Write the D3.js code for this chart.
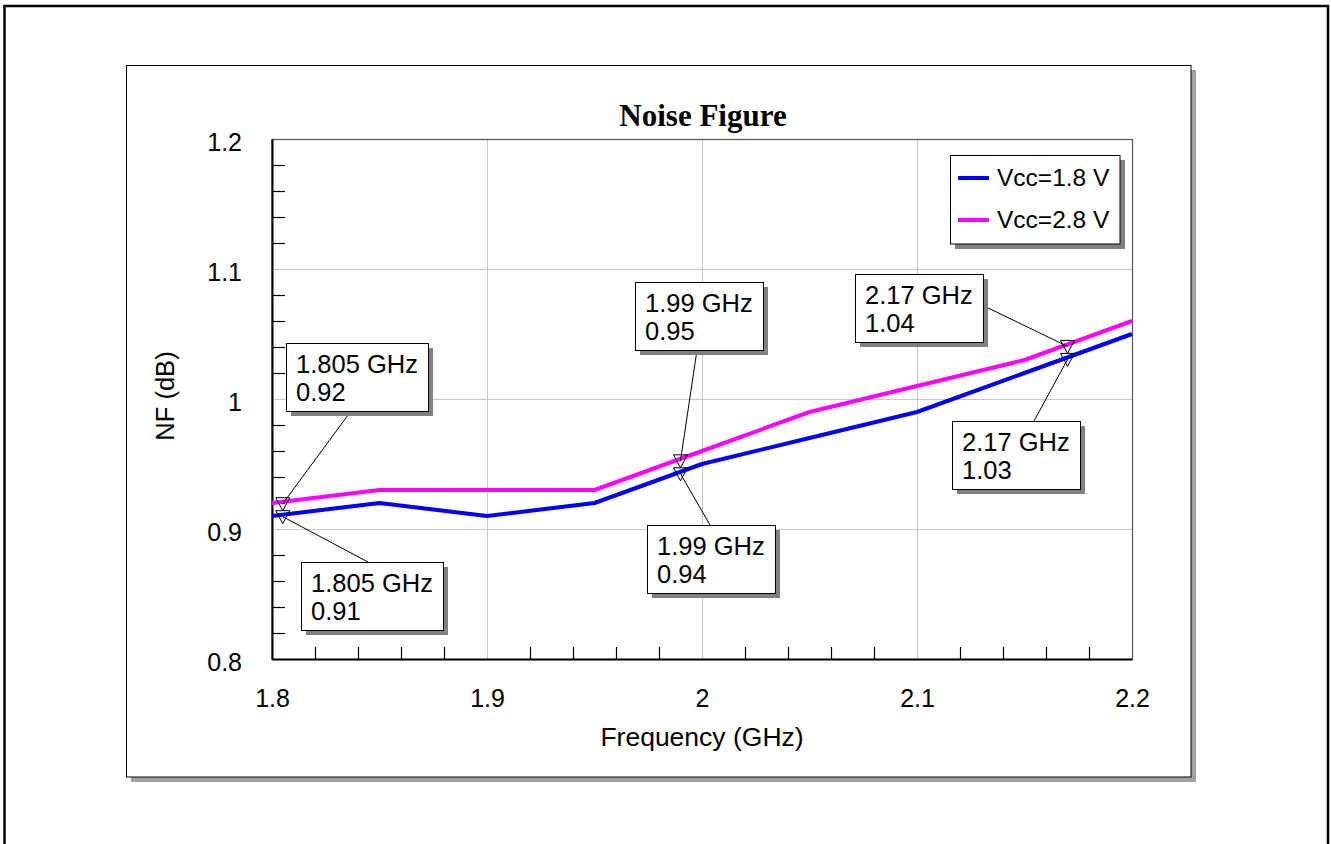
<!DOCTYPE html>
<html>
<head>
<meta charset="utf-8">
<script src="https://cdn.jsdelivr.net/npm/d3@7"></script>
<style>
  html, body { margin: 0; padding: 0; background: #fff; }
  svg { display: block; }
  text { font-family: "Liberation Sans", Arial, sans-serif; fill: #000; }
</style>
</head>
<body>
<svg id="chart" width="1331" height="844"></svg>
<script>
// ---- data ----
const frequencies = [1.8, 1.85, 1.9, 1.95, 2.0, 2.05, 2.1, 2.15, 2.2];
const nfVcc18 = [0.91, 0.92, 0.91, 0.92, 0.95, 0.97, 0.99, 1.02, 1.05];
const nfVcc28 = [0.92, 0.93, 0.93, 0.93, 0.96, 0.99, 1.01, 1.03, 1.06];
const seriesNames = ["Vcc=1.8 V", "Vcc=2.8 V"];
const seriesColors = ["#0000ff", "#ff00ff"];

const xMajorTicks = [1.8, 1.9, 2.0, 2.1, 2.2];
const xMinorTicks = [1.82, 1.84, 1.86, 1.88, 1.92, 1.94, 1.96, 1.98, 2.02, 2.04, 2.06, 2.08, 2.12, 2.14, 2.16, 2.18];
const yMajorTicks = [0.8, 0.9, 1.0, 1.1, 1.2];
const yMinorTicks = [0.82, 0.84, 0.86, 0.88, 0.92, 0.94, 0.96, 0.98, 1.02, 1.04, 1.06, 1.08, 1.12, 1.14, 1.16, 1.18];

// marker readouts (frequency, value) per series
const markerFreqs = [1.805, 1.99, 2.17];
const markersVcc18 = [0.911, 0.944, 1.032];
const markersVcc28 = [0.921, 0.954, 1.042];

// ---- layout ----
const svg = d3.select("#chart");
const plot = { left: 272, right: 1132, top: 139, bottom: 659 };
const x = d3.scaleLinear().domain([1.8, 2.2]).range([plot.left, plot.right]);
const y = d3.scaleLinear().domain([0.8, 1.2]).range([plot.bottom, plot.top]);

// outer frame
svg.append("rect").attr("x", 4.5).attr("y", 6).attr("width", 1323.5).attr("height", 900)
  .attr("fill", "none").attr("stroke", "#000").attr("stroke-width", 2.5);

// chart panel with drop shadow
svg.append("rect").attr("x", 131).attr("y", 70).attr("width", 1065).attr("height", 712).attr("fill", "#a0a0a0");
svg.append("rect").attr("x", 126.5).attr("y", 65.5).attr("width", 1064.5).attr("height", 711.5)
  .attr("fill", "#fff").attr("stroke", "#000").attr("stroke-width", 1);

// title
svg.append("text").attr("x", 703).attr("y", 126).attr("text-anchor", "middle")
  .style("font-family", "'Liberation Serif', 'Times New Roman', serif")
  .style("font-weight", "bold").style("font-size", "31px").text("Noise Figure");

// gridlines
const grid = svg.append("g");
grid.append("g").attr("transform", `translate(0,${plot.bottom})`)
  .call(d3.axisBottom(x).tickValues(xMajorTicks.slice(1, -1)).tickSize(-(plot.bottom - plot.top)).tickFormat(""))
  .call(g => g.select(".domain").remove())
  .call(g => g.selectAll("line").attr("stroke", "#c8c8c8").attr("stroke-width", 1));
grid.append("g").attr("transform", `translate(${plot.left},0)`)
  .call(d3.axisLeft(y).tickValues(yMajorTicks.slice(1, -1)).tickSize(-(plot.right - plot.left)).tickFormat(""))
  .call(g => g.select(".domain").remove())
  .call(g => g.selectAll("line").attr("stroke", "#c8c8c8").attr("stroke-width", 1));

// plot frame (top and right)
svg.append("rect").attr("x", plot.left).attr("y", plot.top + 0.5)
  .attr("width", plot.right - plot.left + 0.5).attr("height", plot.bottom - plot.top)
  .attr("fill", "none").attr("stroke", "#555").attr("stroke-width", 1.2);

// minor ticks, drawn inward
svg.append("g").attr("transform", `translate(0,${plot.bottom})`)
  .call(d3.axisBottom(x).tickValues(xMinorTicks).tickSize(-12).tickFormat(""))
  .call(g => g.select(".domain").remove())
  .call(g => g.selectAll("line").attr("stroke", "#000").attr("stroke-width", 1.2));
svg.append("g").attr("transform", `translate(${plot.left},0)`)
  .call(d3.axisLeft(y).tickValues(yMinorTicks).tickSize(-13).tickFormat(""))
  .call(g => g.select(".domain").remove())
  .call(g => g.selectAll("line").attr("stroke", "#000").attr("stroke-width", 1.2));

// main axes with labels
const fmtTick = d => d3.format("")(+d.toFixed(2));
const xAxis = svg.append("g").attr("transform", `translate(0,${plot.bottom})`)
  .call(d3.axisBottom(x).tickValues(xMajorTicks).tickSize(0).tickPadding(30).tickFormat(fmtTick));
xAxis.select(".domain").attr("stroke", "#000").attr("stroke-width", 2);
xAxis.selectAll("text").style("font-size", "25px").style("font-family", "'Liberation Sans', Arial, sans-serif");

const yAxis = svg.append("g").attr("transform", `translate(${plot.left},0)`)
  .call(d3.axisLeft(y).tickValues(yMajorTicks).tickSize(0).tickPadding(30).tickFormat(fmtTick));
yAxis.select(".domain").attr("stroke", "#000").attr("stroke-width", 2);
yAxis.selectAll("text").style("font-size", "25px").style("font-family", "'Liberation Sans', Arial, sans-serif")
  .attr("dy", "0.45em");

// axis titles
svg.append("text").attr("x", 702).attr("y", 746).attr("text-anchor", "middle")
  .style("font-size", "26.5px").text("Frequency (GHz)");
svg.append("text").attr("transform", "translate(174,396) rotate(-90)").attr("text-anchor", "middle")
  .style("font-size", "25.5px").text("NF (dB)");

// series lines
const seriesData = [nfVcc18, nfVcc28];
const line = d3.line().x((d, i) => x(frequencies[i])).y(d => y(d));
seriesData.forEach((vals, s) => {
  svg.append("path").datum(vals).attr("d", line)
    .attr("fill", "none").attr("stroke", seriesColors[s]).attr("stroke-width", 4)
    .attr("stroke-linejoin", "round");
});

// legend
const legend = svg.append("g");
legend.append("rect").attr("x", 955).attr("y", 160).attr("width", 170).attr("height", 89).attr("fill", "#808080");
legend.append("rect").attr("x", 950.5).attr("y", 155.5).attr("width", 169.5).attr("height", 88.5)
  .attr("fill", "#fff").attr("stroke", "#000").attr("stroke-width", 1);
seriesNames.forEach((name, i) => {
  const ly = 178 + i * 42;
  legend.append("line").attr("x1", 958).attr("x2", 989).attr("y1", ly).attr("y2", ly)
    .attr("stroke", seriesColors[i]).attr("stroke-width", 4);
  legend.append("text").attr("x", 997).attr("y", ly + 8).style("font-size", "24.5px").text(name);
});

// marker annotations: box placement and leader start per readout
const annotations = [
  { series: 1, idx: 0, box: [286, 343], lead: [351, 411] },
  { series: 0, idx: 0, box: [301, 562], lead: [368, 562] },
  { series: 1, idx: 1, box: [635, 282], lead: [697, 350] },
  { series: 0, idx: 1, box: [647, 525], lead: [710, 525] },
  { series: 1, idx: 2, box: [855, 274], lead: [984, 306] },
  { series: 0, idx: 2, box: [952, 421], lead: [1034, 421] }
];
const markerSets = [markersVcc18, markersVcc28];
const fmtVal = d3.format(".2f");
const ann = svg.append("g");

annotations.forEach(a => {
  const f = markerFreqs[a.idx];
  const v = markerSets[a.series][a.idx];
  const mx = x(f), my = y(v);
  // leader
  ann.append("line").attr("x1", a.lead[0]).attr("y1", a.lead[1]).attr("x2", mx).attr("y2", my + 2)
    .attr("stroke", "#000").attr("stroke-width", 1);
  // open downward triangle
  ann.append("path")
    .attr("d", `M${mx - 7},${my - 4}L${mx + 7},${my - 4}L${mx},${my + 9}Z`)
    .attr("fill", "none").attr("stroke", "#000").attr("stroke-width", 1);
});

annotations.forEach(a => {
  const f = markerFreqs[a.idx];
  const v = markerSets[a.series][a.idx];
  const g = ann.append("g").attr("transform", `translate(${a.box[0]},${a.box[1]})`);
  const shadow = g.append("rect").attr("fill", "#808080");
  const frame = g.append("rect").attr("fill", "#fff").attr("stroke", "#000").attr("stroke-width", 1);
  const t1 = g.append("text").attr("x", 10).attr("y", 30).style("font-size", "25.5px").text(`${f} GHz`);
  g.append("text").attr("x", 10).attr("y", 58).style("font-size", "25.5px").text(fmtVal(v));
  const w = Math.round(t1.node().getComputedTextLength() + 20);
  const h = 68;
  shadow.attr("x", 5).attr("y", 5).attr("width", w).attr("height", h);
  frame.attr("x", 0.5).attr("y", 0.5).attr("width", w).attr("height", h);
});
</script>
</body>
</html>
